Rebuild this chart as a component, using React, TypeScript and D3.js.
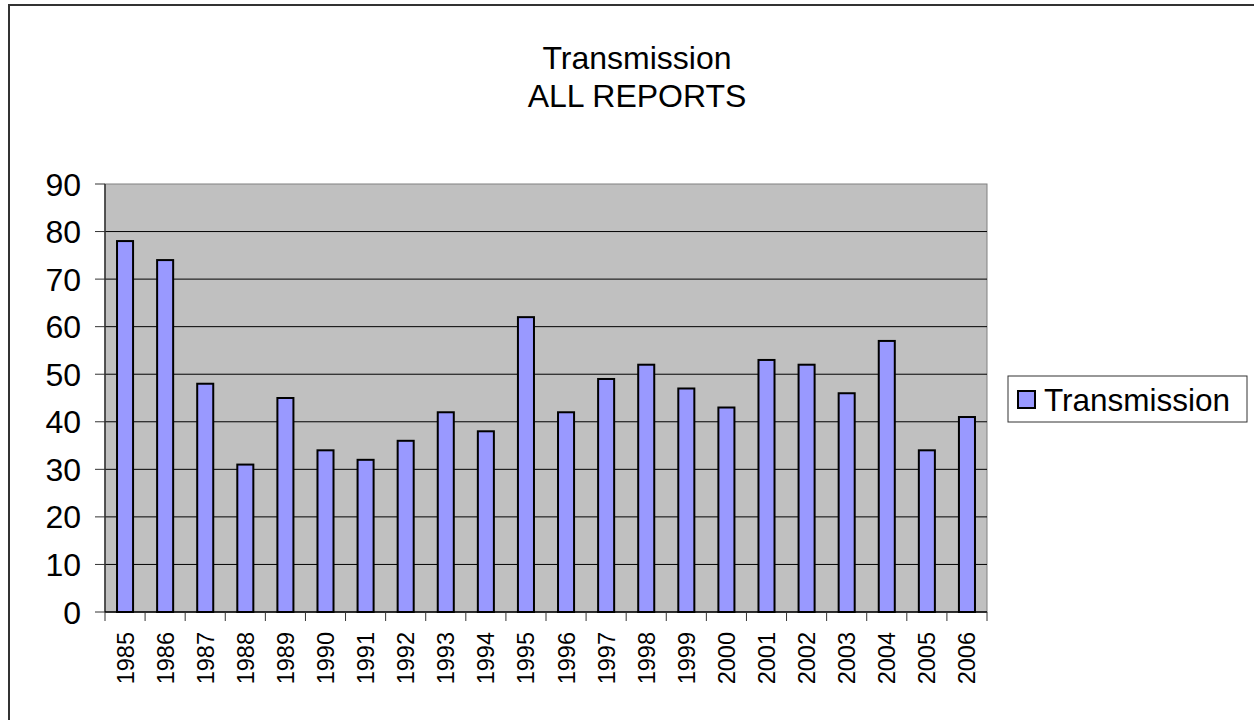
import * as d3 from 'd3';

const years = ['1985', '1986', '1987', '1988', '1989', '1990', '1991', '1992', '1993', '1994', '1995',
  '1996', '1997', '1998', '1999', '2000', '2001', '2002', '2003', '2004', '2005', '2006'];
const transmission = [78, 74, 48, 31, 45, 34, 32, 36, 42, 38, 62, 42, 49, 52, 47, 43, 53, 52, 46, 57, 34, 41];
const yTicks = [0, 10, 20, 30, 40, 50, 60, 70, 80, 90];

export default function App() {
  const width = 1254;
  const height = 720;
  const plot = { left: 105, right: 987, top: 184, bottom: 612 };
  const font = 'Arial, "Liberation Sans", sans-serif';

  const x = d3.scaleBand<string>().domain(years).range([plot.left, plot.right]).paddingInner(0.6).paddingOuter(0.3);
  const xEdge = d3.scaleBand<string>().domain(years).range([plot.left, plot.right]);
  const y = d3.scaleLinear().domain([0, 90]).range([plot.bottom, plot.top]);

  return (
    <svg width={width} height={height} style={{ position: 'absolute', left: 0, top: 0, background: '#fff' }}>
      <rect x={9} y={5} width={1260} height={730} fill="#fff" stroke="#333" strokeWidth={2} />

      <text x={637} y={69} textAnchor="middle" fontFamily={font} fontSize={32}>Transmission</text>
      <text x={637} y={107} textAnchor="middle" fontFamily={font} fontSize={32}>ALL REPORTS</text>

      <rect x={plot.left} y={plot.top} width={plot.right - plot.left} height={plot.bottom - plot.top}
        fill="#c0c0c0" stroke="#808080" strokeWidth={1} />
      {yTicks.filter(t => t > 0 && t < 90).map(t => (
        <line key={t} x1={plot.left} x2={plot.right} y1={y(t)} y2={y(t)} stroke="#000" strokeWidth={1} />
      ))}

      {years.map((yr, i) => (
        <rect key={yr} x={x(yr)} y={y(transmission[i])} width={x.bandwidth()}
          height={y(0) - y(transmission[i])} fill="#9999ff" stroke="#000" strokeWidth={2} />
      ))}

      {/* axes */}
      <line x1={plot.left} x2={plot.left} y1={plot.top} y2={plot.bottom} stroke="#333" strokeWidth={1.5} />
      <line x1={plot.left} x2={plot.right} y1={plot.bottom} y2={plot.bottom} stroke="#000" strokeWidth={1.5} />
      {yTicks.map(t => (
        <g key={t}>
          <line x1={95} x2={plot.left} y1={y(t)} y2={y(t)} stroke="#333" strokeWidth={1} />
          <text x={81} y={y(t)} dy="0.36em" textAnchor="end" fontFamily={font} fontSize={32}>{t}</text>
        </g>
      ))}
      {years.map(yr => (
        <line key={yr} x1={xEdge(yr)} x2={xEdge(yr)} y1={plot.bottom} y2={plot.bottom + 9} stroke="#333" strokeWidth={1} />
      ))}
      <line x1={plot.right} x2={plot.right} y1={plot.bottom} y2={plot.bottom + 9} stroke="#333" strokeWidth={1} />
      {years.map(yr => (
        <text key={yr} transform={`translate(${(x(yr) ?? 0) + x.bandwidth() / 2},632) rotate(-90)`}
          dy="0.36em" textAnchor="end" fontFamily={font} fontSize={23.5}>{yr}</text>
      ))}

      {/* legend */}
      <rect x={1008} y={376} width={239} height={46} fill="#fff" stroke="#333" strokeWidth={1} />
      <rect x={1018} y={391} width={17} height={17} fill="#9999ff" stroke="#000" strokeWidth={2} />
      <text x={1044} y={411} fontFamily={font} fontSize={31.5}>Transmission</text>
    </svg>
  );
}
